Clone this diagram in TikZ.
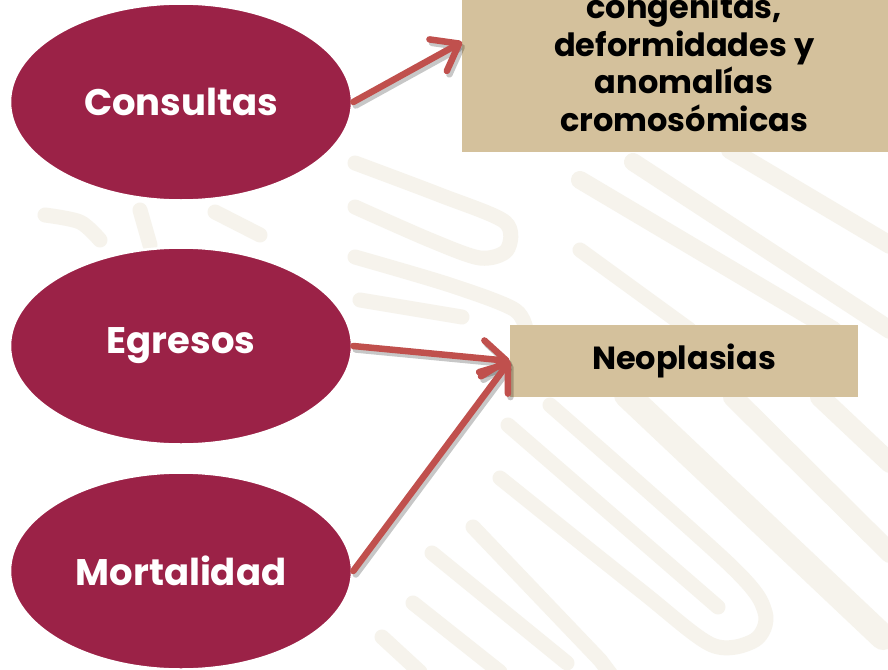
\documentclass[tikz,border=0pt]{standalone}
\usepackage{fontspec}
\setmainfont{Poppins}
\usetikzlibrary{arrows.meta,shapes.geometric}
\definecolor{guinda}{HTML}{9B2247}
\definecolor{arena}{HTML}{D4C19C}
\definecolor{flecha}{HTML}{C0504D}
\definecolor{trama}{HTML}{F6F3EC}
\tikzset{
  elip/.style={ellipse, minimum width=342pt, minimum height=197pt, inner sep=0pt,
    fill=guinda, draw=white, line width=2.5pt, text=white,
    font=\bfseries\fontsize{37}{40}\selectfont},
  caja/.style={rectangle, fill=arena, inner sep=0pt, text=black, align=center,
    font=\bfseries\fontsize{32}{37.7}\selectfont},
  conector/.style={draw=flecha, line width=6.5pt, line cap=round,
    -{Straight Barb[length=24pt,width=36pt,round]}},
  sombra/.style={draw=black, opacity=0.22, line width=6.5pt, line cap=round,
    -{Straight Barb[length=24pt,width=36pt,round]},
    transform canvas={shift={(2.5pt,-3.5pt)}}},
  trazo/.style={draw=trama, line width=15pt, line cap=round, line join=round}
}
\begin{document}
\begin{tikzpicture}[x=1pt,y=-1pt]
\path[use as bounding box, fill=white] (0,0) rectangle (888,669);
\clip (0,0) rectangle (888,669);
% faint background pattern
\draw[trazo] plot[smooth] coordinates {(500,478) (640,590) (712,645) (755,640) (765,612) (730,565) (550,405)};
\draw[trazo] (508,425) -- (718,607);
\draw[trazo] (473,527) -- (600,660) -- (615,680);
\draw[trazo] (432,553) -- (567,663);
\draw[trazo] (413,603) -- (500,672);
\draw[trazo] (382,637) -- (420,672);
\draw[trazo, line width=26pt] (627,395) -- (883,637);
\draw[trazo, line width=20pt] (733,397) -- (890,553);
\draw[trazo, line width=20pt] (820,397) -- (890,463);
\draw[trazo, line width=18pt] (633,162) -- (890,330);
\draw[trazo, line width=18pt] (580,180) -- (833,330);
\draw[trazo] (580,250) -- (690,330);
\draw[trazo, line width=18pt] (730,150) -- (890,245);
\draw[trazo] plot[smooth] coordinates {(355,163) (440,195) (505,222) (507,250) (480,258) (430,240) (355,207)};
\draw[trazo] plot[smooth] coordinates {(355,257) (450,285) (515,310) (527,335)};
\draw[trazo] (360,300) -- (462,317);
\draw[trazo] plot[smooth] coordinates {(45,215) (80,222) (100,240)};
\draw[trazo] (140,210) -- (150,245);
\draw[trazo] (215,212) -- (260,235);
% nodes
\node[elip] (cons) at (181,102) {Consultas};
\node[elip] (egre) at (181,346) {Egresos};
\node[elip] (mort) at (181,571) {Mortalidad};
\node[caja, minimum width=444pt, minimum height=180pt, anchor=south west] (cong) at (462,152)
  {congénitas,\\deformidades y\\anomalías\\cromosómicas};
\node[caja, minimum width=348pt, minimum height=72pt] (neo) at (684,361) {Neoplasias};
% connectors
\coordinate (congin) at ([yshift=110pt]cong.south west);
\draw[sombra] (cons.east) -- (congin);
\draw[sombra] (egre.east) -- (neo.west);
\draw[sombra] (mort.east) -- (neo.west);
\draw[conector] (cons.east) -- (congin);
\draw[conector] (egre.east) -- (neo.west);
\draw[conector] (mort.east) -- (neo.west);
\end{tikzpicture}
\end{document}
